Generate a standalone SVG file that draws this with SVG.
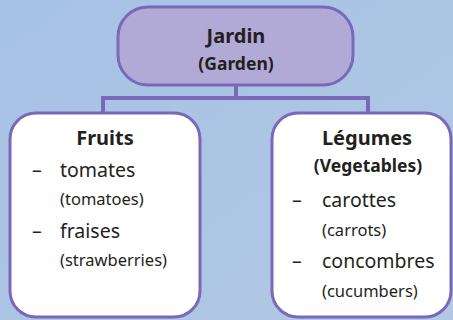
<svg xmlns="http://www.w3.org/2000/svg" width="453" height="320" viewBox="0 0 453 320">
<defs>
<linearGradient id="bg" x1="0" y1="0" x2="1" y2="1">
<stop offset="0" stop-color="#a6c2e6"/>
<stop offset="1" stop-color="#b2c8e4"/>
</linearGradient>
</defs>
<style>
text{font-family:"Noto Sans","Open Sans","Liberation Sans",sans-serif;fill:#231f20}
.b{font-weight:bold}
.h{font-size:20px;text-anchor:middle}
.s{font-size:17.5px;text-anchor:middle}
.i{font-size:19.5px}
.n{font-size:16.5px}
.box{fill:#ffffff;stroke:#7a68b8;stroke-width:3}
.top{fill:#b1aad7;stroke:#7a68b8;stroke-width:3}
.c{fill:none;stroke:#7a68b8;stroke-width:4}
</style>
<rect width="453" height="320" fill="url(#bg)"/>
<g id="connectors">
<path class="c" d="M236 86V98M103 98H368M103 96V114M368 96V114"/>
</g>
<g id="jardin">
<rect class="top" x="118" y="7" width="235" height="78" rx="30"/>
<text class="b h" x="236" y="43">Jardin</text>
<text class="b s" x="236" y="70">(Garden)</text>
</g>
<g id="fruits">
<rect class="box" x="10" y="113" width="190" height="204" rx="26"/>
<text class="b h" x="105" y="145">Fruits</text>
<text class="i" x="32" y="177">–</text>
<text class="i" x="60" y="177">tomates</text>
<text class="n" x="60" y="205">(tomatoes)</text>
<text class="i" x="32" y="238">–</text>
<text class="i" x="60" y="238">fraises</text>
<text class="n" x="60" y="266">(strawberries)</text>
</g>
<g id="legumes">
<rect class="box" x="272" y="113" width="179" height="204" rx="26"/>
<text class="b h" x="367" y="145">Légumes</text>
<text class="b s" x="368" y="172">(Vegetables)</text>
<text class="i" x="292" y="207">–</text>
<text class="i" x="322" y="207">carottes</text>
<text class="n" x="322" y="236">(carrots)</text>
<text class="i" x="292" y="268">–</text>
<text class="i" x="322" y="268">concombres</text>
<text class="n" x="322" y="297">(cucumbers)</text>
</g>
</svg>
